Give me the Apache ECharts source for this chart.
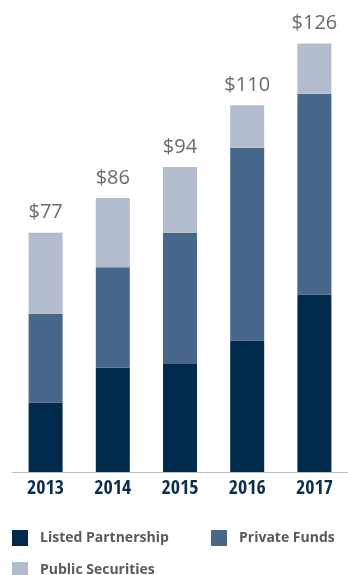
<!DOCTYPE html>
<html>
<head>
<meta charset="utf-8">
<script src="https://cdn.jsdelivr.net/npm/echarts@6/dist/echarts.min.js"></script>
<style>html,body{margin:0;padding:0;background:#fff;}#c{width:348px;height:575px;}</style>
</head>
<body>
<div id="c"></div>
<script>
var categories = ['2013', '2014', '2015', '2016', '2017'];
var listedPartnership = [33, 42, 43, 49, 61];
var privateFunds = [23, 26, 34, 50, 52];
var publicSecurities = [21, 18, 17, 11, 13];
var totals = [77, 86, 94, 110, 126];
var seriesNames = ['Listed Partnership', 'Private Funds', 'Public Securities'];
var colors = ['#012a4c', '#46668a', '#b2bccd'];

var chart = echarts.init(document.getElementById('c'), null, {renderer: 'canvas'});
var legendText = {color: '#58595b', fontFamily: 'Open Sans', fontWeight: 'bold', fontSize: 14, padding: [0, 0, 0, 7]};
function legend(name, left, top) {
  return {data: [name], left: left, top: top, padding: 0, itemWidth: 16, itemHeight: 16, icon: 'rect', textStyle: legendText, selectedMode: false};
}
chart.setOption({
  animation: false,
  color: colors,
  grid: {left: 12, right: -6.5, top: 28, bottom: 103},
  legend: [legend(seriesNames[0], 12, 530), legend(seriesNames[1], 211, 530), legend(seriesNames[2], 12, 562)],
  xAxis: {
    type: 'category',
    data: categories,
    axisLine: {lineStyle: {color: '#bfbfbf', width: 1}},
    axisTick: {show: false},
    axisLabel: {color: '#0b2d4f', fontFamily: '"Open Sans Condensed", "Roboto Condensed", "Open Sans"', fontWeight: 'bold', fontSize: 20, margin: 7}
  },
  yAxis: {type: 'value', min: 15, max: 130, show: false, splitLine: {show: false}},
  series: [
    {name: seriesNames[0], type: 'bar', stack: 'a', barWidth: 34, data: listedPartnership},
    {name: seriesNames[1], type: 'bar', stack: 'a', barWidth: 34, data: privateFunds},
    {name: seriesNames[2], type: 'bar', stack: 'a', barWidth: 34, data: publicSecurities,
      label: {show: true, position: 'top', distance: 10, color: '#6b6b6b', fontFamily: 'Open Sans', fontSize: 20,
        formatter: function (p) { return '$' + totals[p.dataIndex]; }}}
  ]
});
</script>
</body>
</html>
